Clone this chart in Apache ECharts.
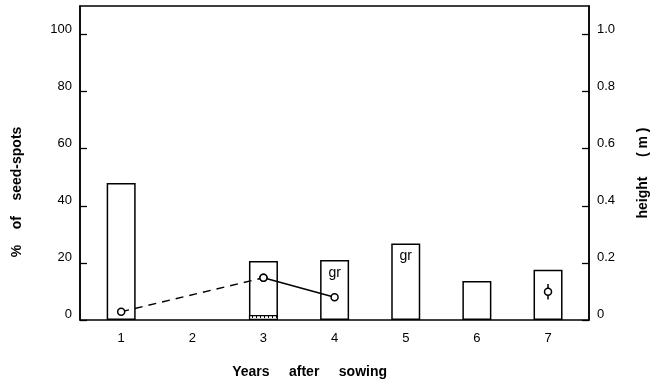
<!DOCTYPE html>
<html>
<head>
<meta charset="utf-8">
<script src="https://cdn.jsdelivr.net/npm/echarts@6/dist/echarts.min.js"></script>
<style>html,body{margin:0;padding:0;background:#fff}#c{width:651px;height:383px}</style>
</head>
<body>
<div id="c"></div>
<script>
const years = ['1', '2', '3', '4', '5', '6', '7'];
const seedSpotPct = [48, null, 20.7, 21, 26.8, 13.7, 17.6];
const hatchedPct = [null, null, 1.75, null, null, null, null];
const barNotes = ['', '', '', 'gr', 'gr', '', ''];
const heightDashed = [0.029, null, 0.148, null, null, null, null];
const heightSolid = [null, null, 0.148, 0.08, null, null, null];
const heightSingle = [null, null, null, null, null, null, 0.099];
const heightErrLow = [null, null, null, null, null, null, 0.072];
const heightErrHigh = [null, null, null, null, null, null, 0.126];

const TICK_FONT = "'Liberation Sans', Arial, sans-serif";
const NAME_FONT = "'Liberation Sans', Arial, sans-serif";

const errData = [];
years.forEach((y, i) => { if (heightErrLow[i] != null) errData.push([i, heightErrLow[i], heightErrHigh[i]]); });

const chart = echarts.init(document.getElementById('c'), null, {renderer: 'canvas'});
chart.setOption({
  animation: false,
  backgroundColor: '#fff',
  grid: [
    {left: 80, right: 62, top: 6, bottom: 63, show: true, borderColor: '#000', borderWidth: 1.5,
      backgroundColor: 'transparent', containLabel: false, outerBoundsMode: 'none'},
    {left: 85.6, right: 67.4, top: 6, bottom: 63, containLabel: false, outerBoundsMode: 'none'}
  ],
  xAxis: [
    {gridIndex: 0, type: 'value', min: 0, max: 1, show: false},
    {gridIndex: 1, type: 'category', data: years,
      axisLine: {show: false}, axisTick: {show: false}, splitLine: {show: false},
      axisLabel: {color: '#000', fontSize: 13, fontFamily: TICK_FONT, margin: 12},
      name: 'Years     after     sowing', nameLocation: 'middle', nameGap: 45,
      nameTextStyle: {color: '#000', fontSize: 14, fontWeight: 'bold', fontFamily: NAME_FONT, padding: [0, 50, 0, 0]}
    }
  ],
  yAxis: [
    {gridIndex: 0, type: 'value', position: 'left', min: 0, max: 110, interval: 20,
      axisLine: {show: true, lineStyle: {color: '#000', width: 1.5}},
      axisTick: {show: true, inside: true, length: 7, lineStyle: {color: '#000', width: 1.3}},
      splitLine: {show: false},
      axisLabel: {color: '#000', fontSize: 13, fontFamily: TICK_FONT, margin: 8, showMaxLabel: false,
        verticalAlign: 'bottom', lineHeight: 11},
      name: '%    of    seed-spots', nameLocation: 'middle', nameGap: 56,
      nameTextStyle: {color: '#000', fontSize: 14, fontWeight: 'bold', fontFamily: NAME_FONT, padding: [0, 58, 0, 0]}
    },
    {gridIndex: 0, type: 'value', position: 'right', min: 0, max: 1.1, interval: 0.2,
      axisLine: {show: true, lineStyle: {color: '#000', width: 1.5}},
      axisTick: {show: true, inside: true, length: 7, lineStyle: {color: '#000', width: 1.3}},
      splitLine: {show: false},
      axisLabel: {color: '#000', fontSize: 13, fontFamily: TICK_FONT, margin: 8, showMaxLabel: false,
        verticalAlign: 'bottom', lineHeight: 11,
        formatter: v => v === 0 ? '0' : v.toFixed(1)},
      name: 'height     ( m )', nameLocation: 'middle', nameGap: 47,
      nameTextStyle: {color: '#000', fontSize: 14, fontWeight: 'bold', fontFamily: NAME_FONT, padding: [0, 20, 0, 0]}
    },
    {gridIndex: 1, type: 'value', min: 0, max: 110, show: false},
    {gridIndex: 1, type: 'value', min: 0, max: 1.1, show: false}
  ],
  series: [
    {type: 'bar', xAxisIndex: 1, yAxisIndex: 2, data: seedSpotPct, barWidth: 29,
      itemStyle: {color: '#fff', borderColor: '#000', borderWidth: 1.5},
      label: {show: true, position: 'insideTop', distance: 6, color: '#000', fontSize: 14,
        fontFamily: TICK_FONT, formatter: p => barNotes[p.dataIndex]}
    },
    {type: 'bar', xAxisIndex: 1, yAxisIndex: 2, data: hatchedPct, barWidth: 29, barGap: '-100%',
      itemStyle: {color: '#fff', borderColor: '#000', borderWidth: 1.2,
        decal: {symbol: 'rect', symbolSize: 1, color: '#000', backgroundColor: '#fff',
          dashArrayX: [1, 3], dashArrayY: [3, 2], rotation: 0}}
    },
    {type: 'line', xAxisIndex: 1, yAxisIndex: 3, data: heightDashed, connectNulls: true, z: 5,
      symbol: 'circle', symbolSize: 7, showAllSymbol: true,
      lineStyle: {color: '#000', width: 1.5, type: [8, 6]},
      itemStyle: {color: '#fff', borderColor: '#000', borderWidth: 1.5}
    },
    {type: 'line', xAxisIndex: 1, yAxisIndex: 3, data: heightSolid, z: 5,
      symbol: 'circle', symbolSize: 7,
      lineStyle: {color: '#000', width: 1.5},
      itemStyle: {color: '#fff', borderColor: '#000', borderWidth: 1.5}
    },
    {type: 'custom', xAxisIndex: 1, yAxisIndex: 3, data: errData, z: 4,
      renderItem: (params, api) => {
        const lo = api.coord([api.value(0), api.value(1)]);
        const hi = api.coord([api.value(0), api.value(2)]);
        return {type: 'line', shape: {x1: lo[0], y1: lo[1], x2: hi[0], y2: hi[1]},
          style: {stroke: '#000', lineWidth: 1.5}};
      }
    },
    {type: 'line', xAxisIndex: 1, yAxisIndex: 3, data: heightSingle, z: 6,
      symbol: 'circle', symbolSize: 7,
      lineStyle: {color: '#000', width: 1.5},
      itemStyle: {color: '#fff', borderColor: '#000', borderWidth: 1.5}
    }
  ]
});
</script>
</body>
</html>
